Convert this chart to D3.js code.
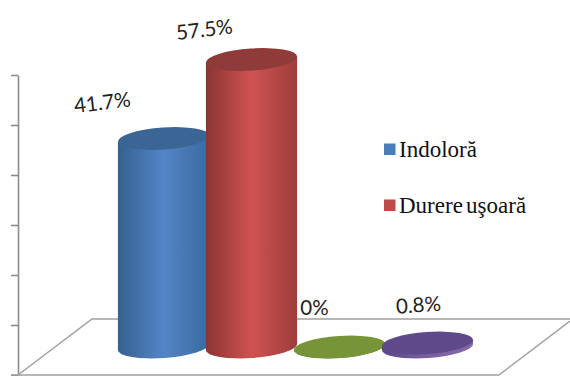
<!DOCTYPE html>
<html>
<head>
<meta charset="utf-8">
<script src="https://cdn.jsdelivr.net/npm/d3@7/dist/d3.min.js"></script>
<style>
html,body{margin:0;padding:0;background:#fff;overflow:hidden}
svg{display:block}
</style>
</head>
<body>
<div id="chart"></div>
<script>
// Pain levels, in percent of respondents
const seriesKeys = ["indolora", "usoara", "moderata", "severa"];
const seriesValues = [41.7, 57.5, 0, 0.8];
const legendLabels = ["Indoloră", "Durere uşoară"];
const axisTicks = [0, 10, 20, 30, 40, 50, 60];

const sideStops = [
  ["#35618f", "#5384c6", "#3a6a9e"],
  ["#8a3533", "#cf5252", "#9c3e3c"],
  ["#5f7830", "#77933c", "#5f7830"],
  ["#5a4585", "#7a5ea0", "#8468a8"]
];
const capColors = ["#3b6594", "#8f3b39", "#779438", "#5e4a8a"];

const width = 570, height = 376;
const tilt = -4;                 // apparent rotation of the disc ellipses, degrees
const rx = 45.7, ry = 11;
const baseY = 347;               // centre line of the cylinder bases

const svg = d3.select("#chart").append("svg")
  .attr("width", width).attr("height", height);

// Value axis on the back-left wall
const y = d3.scaleLinear().domain([0, 60]).range([375, 75]);
const x = d3.scalePoint().domain(seriesKeys).range([163.5, 427.5]);
const barHeight = v => y(0) - y(v);

const axis = d3.axisLeft(y).tickValues(axisTicks).tickFormat("").tickSize(7).tickSizeOuter(0);
const axisG = svg.append("g").attr("transform", "translate(18,0)").call(axis);
axisG.selectAll("path,line").attr("stroke", "#8c8c8c").attr("stroke-width", 1.6);

// Floor parallelogram
const floorPts = [[18, 375], [92, 319], [570, 319]];
const line = d3.line();
svg.append("path").attr("d", line(floorPts))
  .attr("fill", "none").attr("stroke", "#a0a0a0").attr("stroke-width", 1.5);
svg.append("path").attr("d", line([[11, 375], [499, 375], [570, 321]]))
  .attr("fill", "none").attr("stroke", "#a0a0a0").attr("stroke-width", 1.5);

// Horizontal shading of the cylinder sides
const defs = svg.append("defs");
sideStops.forEach((stops, i) => {
  const g = defs.append("linearGradient").attr("id", "side" + i);
  g.selectAll("stop").data(stops).join("stop")
    .attr("offset", (d, j) => [0, 0.5, 1][j])
    .attr("stop-color", d => d);
});

const rad = tilt * Math.PI / 180;
const dx = rx * Math.cos(rad), dy = rx * Math.sin(rad);

seriesKeys.forEach((key, i) => {
  const cx = x(key);
  const top = baseY - barHeight(seriesValues[i]);
  const g = svg.append("g");
  const sidePath =
    `M${cx - dx},${top - dy}` +
    `L${cx - dx},${baseY - dy}` +
    `A${rx},${ry} ${tilt} 0 0 ${cx + dx},${baseY + dy}` +
    `L${cx + dx},${top + dy}Z`;
  g.append("path").attr("d", sidePath).attr("fill", `url(#side${i})`);
  g.append("ellipse")
    .attr("cx", cx).attr("cy", top)
    .attr("rx", rx).attr("ry", ry)
    .attr("transform", `rotate(${tilt} ${cx} ${top})`)
    .attr("fill", capColors[i]);
});

// Value labels, hand placed relative to each cap
const labelOffsets = [[-61, -34, -7], [-47, -28, -7], [-25, -37, 0], [-9, -36, -4]];
seriesValues.forEach((v, i) => {
  const [ox, oy, rot] = labelOffsets[i];
  const lx = x(seriesKeys[i]) + ox, ly = baseY - barHeight(v) + oy;
  svg.append("text")
    .attr("transform", `translate(${lx},${ly}) rotate(${rot})`)
    .attr("text-anchor", "middle").attr("dominant-baseline", "middle")
    .attr("font-family", "Lato, 'Open Sans', sans-serif")
    .attr("font-size", 20.5).attr("fill", "#222")
    .text(v + "%");
});

// Legend
const legendY = d3.scalePoint().domain(legendLabels).range([149, 205]);
const legend = svg.append("g").selectAll("g").data(legendLabels).join("g")
  .attr("transform", d => `translate(384,${legendY(d)})`);
legend.append("rect")
  .attr("x", 0).attr("y", -5.5).attr("width", 11.5).attr("height", 11.5)
  .attr("fill", (d, i) => ["#4a7ebb", "#be4b48"][i]);
legend.append("text")
  .attr("x", 15).attr("dy", "0.33em")
  .attr("font-family", "'Liberation Serif', serif")
  .attr("font-size", 23).attr("word-spacing", -2.5).attr("fill", "#111")
  .text(d => d);
</script>
</body>
</html>
